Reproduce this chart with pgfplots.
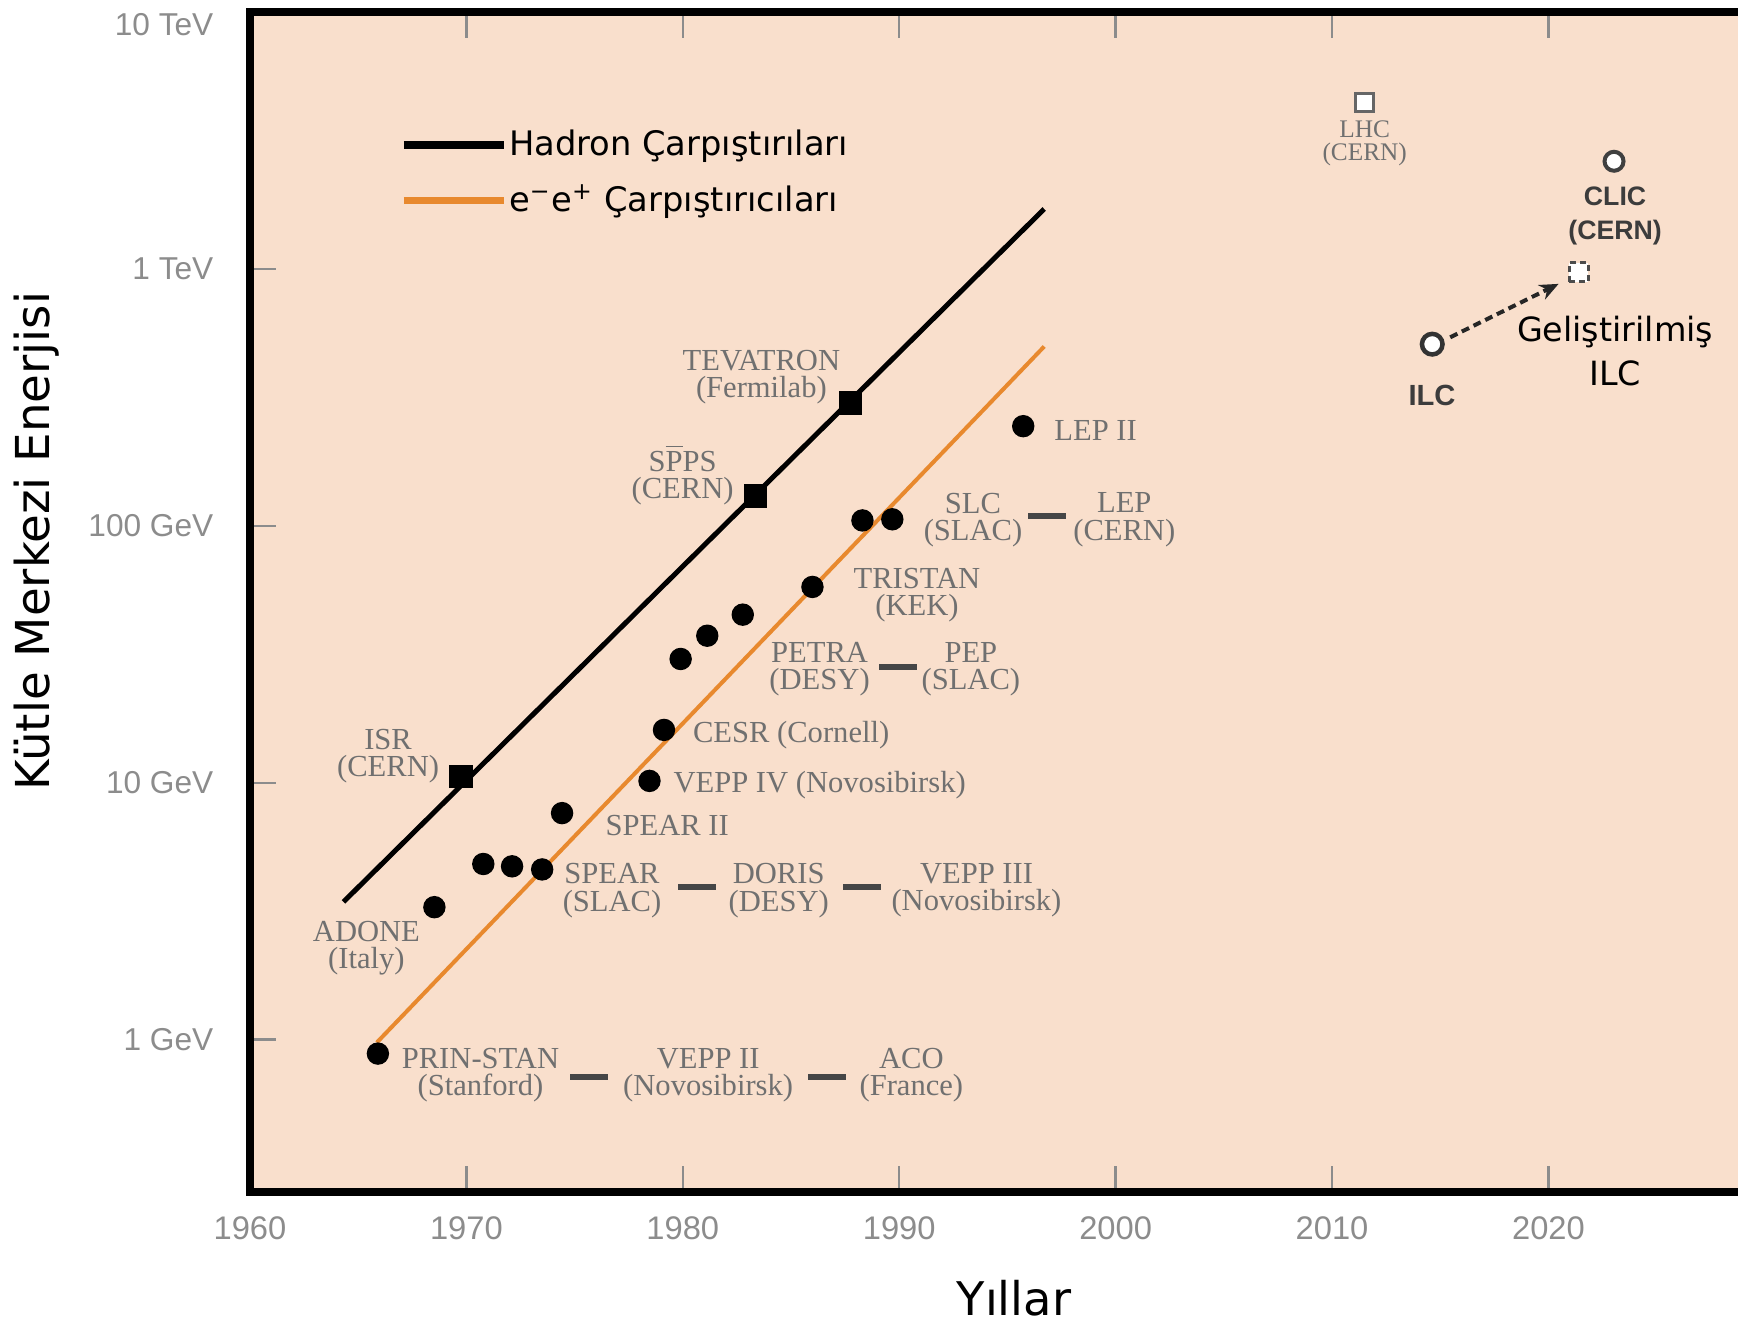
\documentclass[border=0pt]{standalone}
\usepackage{pgfplots}
\pgfplotsset{compat=1.18}
\usepackage{fontspec}
\setmainfont{Liberation Serif}
\newfontfamily\comic{DejaVu Sans}
\newfontfamily\arial{Liberation Sans}
\usetikzlibrary{arrows.meta}
\definecolor{peach}{RGB}{249,223,204}
\definecolor{eorange}{RGB}{232,137,46}
\definecolor{labgray}{RGB}{112,112,112}
\definecolor{tickgray}{RGB}{140,140,140}
\definecolor{dashgray}{RGB}{70,70,70}
\definecolor{boldgray}{RGB}{60,60,60}

\begin{document}
\begin{tikzpicture}[
  annot/.style={font=\fontsize{8.7}{7.7}\selectfont, text=labgray, align=center, inner sep=0pt},
  annotw/.style={font=\fontsize{8.7}{7.7}\selectfont, text=labgray, anchor=west, inner sep=0pt},
  dsh/.style={fill=dashgray, minimum width=3.8mm, minimum height=0.6mm, inner sep=0pt},
]
\useasboundingbox (0,0) rectangle (173.8mm,132.5mm);
\begin{axis}[
  at={(25mm,13.35mm)}, anchor=south west,
  scale only axis, width=149.97mm, height=117.95mm,
  xmin=1960, xmax=2029.3,
  ymode=log, ymin=0.2566, ymax=10000,
  clip=false,
  axis background/.style={fill=peach},
  axis line style={line width=0.8mm, black},
  xtick={1960,1970,1980,1990,2000,2010,2020},
  xticklabels={1960,1970,1980,1990,2000,2010,2020},
  ytick={1,10,100,1000},
  yticklabels={1 GeV,10 GeV,100 GeV,1 TeV},
  extra y ticks={10000}, extra y tick labels={10 TeV},
  extra y tick style={major tick length=0pt, yticklabel style={yshift=-1.3mm}},
  yminorticks=false, xminorticks=false,
  ytick pos=left,
  tick align=inside,
  major tick length=2.6mm,
  tick style={draw=tickgray, line width=0.25mm},
  xticklabel style={font=\arial\fontsize{9.3}{10}\selectfont, text=tickgray, anchor=center, yshift=-3.65mm},
  yticklabel style={font=\arial\fontsize{9}{10}\selectfont, text=tickgray, anchor=east, inner sep=0pt, xshift=-3.6mm},
  xlabel={Yıllar}, ylabel={Kütle Merkezi Enerjisi},
  xlabel style={font=\comic\fontsize{13.2}{15}\selectfont, at={(rel axis cs:0.5094,-0.0905)}, anchor=center},
  ylabel style={font=\comic\fontsize{13.3}{15}\selectfont, at={(rel axis cs:-0.1423,0.5515)}, anchor=center},
  legend cell align=left,
  legend image code/.code={\draw[#1, line width=0.75mm] (0mm,0mm) -- (10mm,0mm);},
  legend style={draw=none, fill=none, at={(axis cs:1966.9,2356)}, anchor=west,
    font=\comic\fontsize{9.6}{11}\selectfont, row sep=2.4mm, inner sep=0pt,
    nodes={inner sep=0pt, text=black}, column sep=0.15mm},
]
% trend lines
\addplot[black, line width=0.5mm] coordinates {(1964.32,3.44) (1996.70,1711)};
\addlegendentry{Hadron Çarpıştırıları}
\addplot[eorange, line width=0.4mm] coordinates {(1965.86,0.975) (1996.70,499)};
\addlegendentry{e\textsuperscript{−}e\textsuperscript{+} Çarpıştırıcıları}

% hadron colliders
\addplot[forget plot, only marks, mark=square*, mark size=1.1mm, black] coordinates {
 (1969.75,10.58) (1983.37,130.6) (1987.74,300.9)};

% e+e- colliders
\addplot[forget plot, only marks, mark=*, mark size=1.05mm, black] coordinates {
 (1965.91,0.883) (1968.52,3.28) (1970.78,4.83) (1972.11,4.73) (1973.50,4.60)
 (1974.42,7.62) (1978.46,10.17) (1979.13,16.06) (1979.90,30.33) (1981.13,37.36)
 (1982.77,45.12) (1985.99,57.84) (1988.30,104.98) (1989.68,106.05) (1995.73,244.3)};

% future colliders
\addplot[forget plot, only marks, mark=square*, mark size=0.9mm, mark options={fill=white, draw=black!60, line width=0.33mm}] coordinates {(2011.51,4442)};
\addplot[forget plot, only marks, mark=*, mark size=0.95mm, mark options={fill=white, draw=black!75, line width=0.4mm}] coordinates {(2023.03,2624)};
\addplot[forget plot, only marks, mark=*, mark size=1.03mm, mark options={fill=white, draw=black!80, line width=0.45mm}] coordinates {(2014.63,509.4)};
\addplot[forget plot, black!85, line width=0.4mm, dash pattern=on 0.8mm off 0.5mm, -{Stealth[length=1.9mm,width=1.6mm]}] coordinates {(2015.46,541.9) (2020.47,874.6)};
\addplot[forget plot, only marks, mark=square*, mark size=0.95mm, mark options={fill=white, draw=black!70, dash pattern=on 0.6mm off 0.4mm, line width=0.3mm}] coordinates {(2021.4,971)};

% annotations
\node[annot] at (axis cs:1983.63,378.9) {TEVATRON\\(Fermilab)};
\node[annot] at (axis cs:1979.99,158.1) {S$\overline{\mbox{P}}$PS\\(CERN)};
\node[annot] at (axis cs:1966.38,12.67) {ISR\\(CERN)};
\node[annot] at (axis cs:1965.38,2.274) {ADONE\\(Italy)};
\node[annot] at (axis cs:1970.65,0.7304) {PRIN-STAN\\(Stanford)};
\node[dsh] at (axis cs:1975.66,0.7139) {};
\node[annot] at (axis cs:1981.17,0.7304) {VEPP II\\(Novosibirsk)};
\node[dsh] at (axis cs:1986.67,0.7139) {};
\node[annot] at (axis cs:1990.56,0.7304) {ACO\\(France)};
\node[annot] at (axis cs:1976.73,3.804) {SPEAR\\(SLAC)};
\node[dsh] at (axis cs:1980.67,3.920) {};
\node[annot] at (axis cs:1984.43,3.804) {DORIS\\(DESY)};
\node[dsh] at (axis cs:1988.26,3.920) {};
\node[annot] at (axis cs:1993.57,3.804) {VEPP III\\(Novosibirsk)};
\node[annotw] at (axis cs:1976.40,6.816) {SPEAR II};
\node[annotw] at (axis cs:1979.54,9.755) {VEPP IV (Novosibirsk)};
\node[annotw] at (axis cs:1980.44,15.39) {CESR (Cornell)};
\node[annot] at (axis cs:1986.32,27.74) {PETRA\\(DESY)};
\node[dsh] at (axis cs:1989.92,28.15) {};
\node[annot] at (axis cs:1993.31,27.74) {PEP\\(SLAC)};
\node[annot] at (axis cs:1990.82,53.55) {TRISTAN\\(KEK)};
\node[annot] at (axis cs:1993.41,105.6) {SLC\\(SLAC)};
\node[dsh] at (axis cs:1996.85,109.7) {};
\node[annot] at (axis cs:2000.40,105.6) {LEP\\(CERN)};
\node[annotw] at (axis cs:1997.14,234.8) {LEP II};
\node[annot, font=\fontsize{7.2}{6.6}\selectfont] at (axis cs:2011.51,3076) {LHC\\(CERN)};
\node[align=center, inner sep=0pt, text=boldgray, font=\arial\bfseries\fontsize{7.6}{9.8}\selectfont] at (axis cs:2023.08,1605) {CLIC\\(CERN)};
\node[inner sep=0pt, text=boldgray, font=\arial\bfseries\fontsize{8.3}{10}\selectfont] at (axis cs:2014.62,321.3) {ILC};
\node[align=center, inner sep=0pt, text=black, font=\comic\fontsize{9.5}{12.6}\selectfont] at (axis cs:2023.08,477.5) {Geliştirilmiş\\ILC};
\end{axis}
\end{tikzpicture}
\end{document}
